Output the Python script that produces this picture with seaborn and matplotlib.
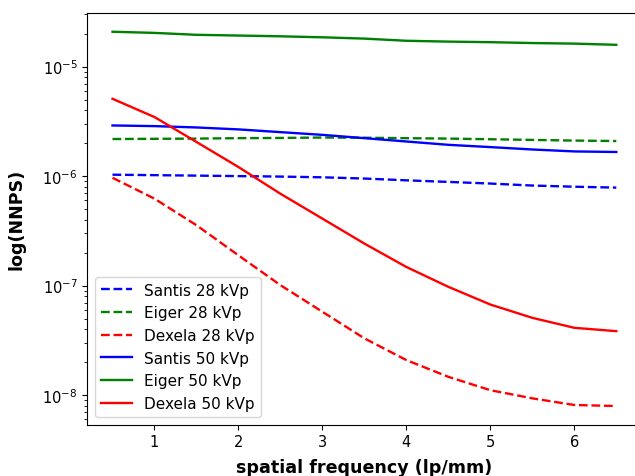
import numpy as np
import pandas as pd
import seaborn as sns
import matplotlib.pyplot as plt

# spatial frequency (lp/mm)
freq = [0.5, 1.0, 1.5, 2.0, 2.5, 3.0, 3.5, 4.0, 4.5, 5.0, 5.5, 6.0, 6.5]

# NNPS values
santis_28 = [1.03e-6, 1.02e-6, 1.01e-6, 1.00e-6, 0.99e-6, 0.975e-6, 0.95e-6,
             0.915e-6, 0.885e-6, 0.855e-6, 0.82e-6, 0.80e-6, 0.785e-6]
eiger_28 = [2.18e-6, 2.19e-6, 2.20e-6, 2.22e-6, 2.23e-6, 2.25e-6, 2.24e-6,
            2.22e-6, 2.20e-6, 2.17e-6, 2.14e-6, 2.11e-6, 2.09e-6]
dexela_28 = [9.66e-7, 6.22e-7, 3.56e-7, 1.89e-7, 1.01e-7, 5.77e-8, 3.30e-8,
             2.09e-8, 1.47e-8, 1.11e-8, 9.35e-9, 8.13e-9, 7.96e-9]
santis_50 = [2.90e-6, 2.86e-6, 2.78e-6, 2.67e-6, 2.52e-6, 2.38e-6, 2.22e-6,
             2.07e-6, 1.93e-6, 1.84e-6, 1.75e-6, 1.68e-6, 1.66e-6]
eiger_50 = [2.08e-5, 2.03e-5, 1.95e-5, 1.92e-5, 1.89e-5, 1.85e-5, 1.80e-5,
            1.72e-5, 1.69e-5, 1.67e-5, 1.64e-5, 1.62e-5, 1.58e-5]
dexela_50 = [5.08e-6, 3.46e-6, 2.05e-6, 1.21e-6, 6.90e-7, 4.09e-7, 2.42e-7,
             1.48e-7, 9.75e-8, 6.72e-8, 5.08e-8, 4.12e-8, 3.84e-8]

series = [
    ("Santis 28 kVp", santis_28, "blue", "--"),
    ("Eiger 28 kVp", eiger_28, "green", "--"),
    ("Dexela 28 kVp", dexela_28, "red", "--"),
    ("Santis 50 kVp", santis_50, "blue", "-"),
    ("Eiger 50 kVp", eiger_50, "green", "-"),
    ("Dexela 50 kVp", dexela_50, "red", "-"),
]

fig = plt.figure(figsize=(6.35, 4.77), dpi=100)
ax = fig.add_axes([0.1375, 0.1075, 0.8727, 0.8631])

for label, vals, color, ls in series:
    sns.lineplot(x=freq, y=vals, ax=ax, color=color, linestyle=ls,
                 linewidth=1.7, label=label)

ax.set_yscale("log")
ax.tick_params(labelsize=10.5)
ax.set_xlabel("spatial frequency (lp/mm)", fontsize=12.6, fontweight="bold",
              labelpad=6)
ax.set_ylabel("log(NNPS)", fontsize=12.6, fontweight="bold", labelpad=12)
ax.legend(loc="lower left", fontsize=11)

fig.savefig("out.png", dpi=100)
